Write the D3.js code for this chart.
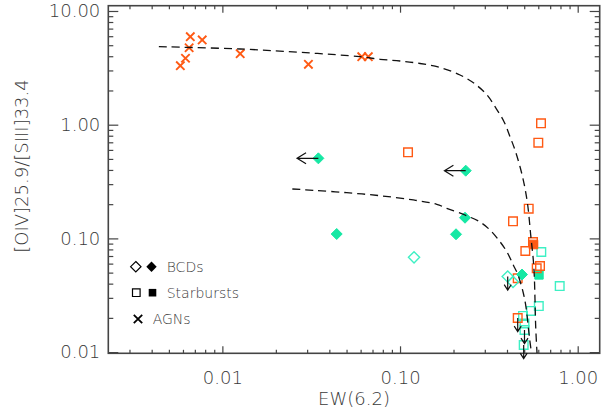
<!DOCTYPE html>
<html><head><meta charset="utf-8">
<script src="https://cdn.jsdelivr.net/npm/d3@7"></script>
<style>
html,body{margin:0;padding:0;background:#fff;}
svg{display:block;}
</style></head>
<body>
<svg id="chart" width="602" height="418"></svg>
<script>
// ---------- data ----------
const xDomain = [0.00228, 1.33];
const yDomain = [0.00976, 11.13];
const xMajorTicks = [0.01, 0.1, 1];
const yMajorTicks = [0.01, 0.1, 1, 10];
const xTitle = "EW(6.2)";
const yTitle = "[OIV]25.9/[SIII]33.4";

// AGNs (crosses)
const agnX = [0.0066, 0.0077, 0.0065, 0.0062, 0.0058, 0.0126, 0.0305, 0.0609, 0.0663];
const agnY = [5.94, 5.56, 4.75, 3.84, 3.30, 4.21, 3.40, 3.96, 3.96];

// BCDs filled diamonds
const bcdFillX = [0.0347, 0.2343, 0.2321, 0.2066, 0.0440, 0.4858];
const bcdFillY = [0.506, 0.394, 0.152, 0.1087, 0.1093, 0.0481];
const bcdFillLim = ["left", "left", "", "", "", ""];

// BCDs open diamonds
const bcdOpenX = [0.1199, 0.4037, 0.4324];
const bcdOpenY = [0.0682, 0.0462, 0.0414];
const bcdOpenLim = ["", "down", ""];

// Starbursts open squares (orange)
const sbOrangeX = [0.6216, 0.6002, 0.1109, 0.5300, 0.4324, 0.5603, 0.5073, 0.6136, 0.5878, 0.4596, 0.4596];
const sbOrangeY = [1.029, 0.6945, 0.5718, 0.1825, 0.1414, 0.0930, 0.0775, 0.0572, 0.0546, 0.0446, 0.01995];
const sbOrangeLim = ["", "", "", "", "", "", "", "", "", "", "down"];

// Starbursts filled square (orange)
const sbOrangeFillX = [0.5639];
const sbOrangeFillY = [0.0884];

// Starbursts open squares (cyan)
const sbCyanX = [0.6240, 0.7920, 0.6041, 0.5461, 0.4921, 0.5018, 0.5018, 0.4966];
const sbCyanY = [0.0759, 0.0381, 0.0254, 0.0230, 0.0208, 0.01784, 0.01564, 0.01155];
const sbCyanLim = ["", "", "", "", "", "", "down", "down"];

// Starbursts filled square (cyan)
const sbCyanFillX = [0.6056];
const sbCyanFillY = [0.0477];

// dashed curves
const curve1X = [0.00439, 0.01258, 0.03114, 0.05955, 0.07716, 0.1000, 0.1296, 0.1680, 0.2176, 0.2643, 0.3087, 0.3424, 0.3848, 0.4159, 0.4437, 0.4735, 0.4986, 0.5231, 0.5439, 0.5625, 0.5700, 0.5751, 0.5803, 0.5902];
const curve1Y = [4.853, 4.633, 4.272, 3.964, 3.760, 3.633, 3.453, 3.185, 2.736, 2.280, 1.825, 1.440, 1.063, 0.784, 0.599, 0.427, 0.305, 0.1967, 0.1071, 0.0646, 0.0460, 0.0287, 0.01663, 0.00982];
const curve2X = [0.02476, 0.03251, 0.05012, 0.07716, 0.1188, 0.1609, 0.1832, 0.2321, 0.2819, 0.3209, 0.3653, 0.4000, 0.4340, 0.4613, 0.4941, 0.5117, 0.5272, 0.5390, 0.5495];
const curve2Y = [0.2720, 0.2649, 0.2523, 0.2374, 0.2177, 0.1995, 0.1839, 0.1606, 0.1394, 0.1186, 0.0935, 0.0759, 0.0583, 0.0477, 0.0331, 0.0249, 0.01663, 0.01227, 0.00982];

// legend
const legendLabels = ["BCDs", "Starbursts", "AGNs"];

// ---------- styles ----------
const ORANGE = "#ff5a14";
const MINT = "#16e8a4";
const CYAN = "#3ef0c4";
const FONT = "'DejaVu Sans', sans-serif";
const FW = 200;
const TXT = "#3a3a3a";
const AX = "#444";

const M = {left: 108.3, right: 599.7, top: 5.7, bottom: 353.3};
const svg = d3.select("#chart");

const x = d3.scaleLog().domain(xDomain).range([M.left, M.right]);
const y = d3.scaleLog().domain(yDomain).range([M.bottom, M.top]);

function minorTicks(dom) {
  const out = [];
  const lo = Math.floor(Math.log10(dom[0])), hi = Math.ceil(Math.log10(dom[1]));
  for (let e = lo; e <= hi; e++) for (let k = 2; k <= 9; k++) {
    const v = k * Math.pow(10, e);
    if (v >= dom[0] && v <= dom[1]) out.push(v);
  }
  return out;
}
const fmt = d3.format(".2f");

function styleAxis(g) {
  g.select(".domain").remove();
  g.selectAll("line").attr("stroke", AX).attr("stroke-width", 1.2);
  g.selectAll("text").attr("font-family", FONT).attr("font-weight", FW).attr("font-size", 18).attr("fill", TXT);
}

// x axes (tick length = 7 major / 3.5 minor)
svg.append("g").attr("transform", `translate(0,${M.bottom})`)
  .call(d3.axisBottom(x).tickValues(xMajorTicks).tickFormat(fmt).tickSize(-7).tickPadding(18))
  .call(styleAxis);
svg.append("g").attr("transform", `translate(0,${M.bottom})`)
  .call(d3.axisBottom(x).tickValues(minorTicks(xDomain)).tickFormat("").tickSize(-3.5))
  .call(styleAxis);
svg.append("g").attr("transform", `translate(0,${M.top})`)
  .call(d3.axisTop(x).tickValues(xMajorTicks).tickFormat("").tickSize(-7))
  .call(styleAxis);
svg.append("g").attr("transform", `translate(0,${M.top})`)
  .call(d3.axisTop(x).tickValues(minorTicks(xDomain)).tickFormat("").tickSize(-3.5))
  .call(styleAxis);

// y axes (tick length = 10 major / 5 minor)
svg.append("g").attr("transform", `translate(${M.left},0)`)
  .call(d3.axisLeft(y).tickValues(yMajorTicks).tickFormat(fmt).tickSize(-10).tickPadding(8))
  .call(styleAxis);
svg.append("g").attr("transform", `translate(${M.left},0)`)
  .call(d3.axisLeft(y).tickValues(minorTicks(yDomain)).tickFormat("").tickSize(-5))
  .call(styleAxis);
svg.append("g").attr("transform", `translate(${M.right},0)`)
  .call(d3.axisRight(y).tickValues(yMajorTicks).tickFormat("").tickSize(-10))
  .call(styleAxis);
svg.append("g").attr("transform", `translate(${M.right},0)`)
  .call(d3.axisRight(y).tickValues(minorTicks(yDomain)).tickFormat("").tickSize(-5))
  .call(styleAxis);

// frame
svg.append("rect").attr("x", M.left).attr("y", M.top)
  .attr("width", M.right - M.left).attr("height", M.bottom - M.top)
  .attr("fill", "none").attr("stroke", AX).attr("stroke-width", 1.6);

// titles
svg.append("text").attr("x", (M.left + M.right) / 2).attr("y", 405)
  .attr("text-anchor", "middle").attr("font-family", FONT).attr("font-weight", FW).attr("font-size", 18).attr("fill", TXT)
  .text(xTitle);
svg.append("text").attr("transform", "translate(28,166) rotate(-90)")
  .attr("text-anchor", "middle").attr("font-family", FONT).attr("font-weight", FW).attr("font-size", 18).attr("fill", TXT)
  .text(yTitle);

// ---------- marker helpers ----------
function diamondPath(cx, cy, r) { return `M${cx},${cy - r}L${cx + r},${cy}L${cx},${cy + r}L${cx - r},${cy}Z`; }
function squarePath(cx, cy, r) { return `M${cx - r},${cy - r}H${cx + r}V${cy + r}H${cx - r}Z`; }
function crossPath(cx, cy, r) { return `M${cx - r},${cy - r}L${cx + r},${cy + r}M${cx - r},${cy + r}L${cx + r},${cy - r}`; }

const gPts = svg.append("g");
const gArr = svg.append("g");
const ARROW_DEX = 0.12;

function arrow(px, py, lim) {
  if (!lim) return;
  let x2, y2;
  const x1 = x(px), y1 = y(py);
  if (lim === "left") { x2 = x(px * Math.pow(10, -ARROW_DEX)); y2 = y1; }
  else { x2 = x1; y2 = y(py * Math.pow(10, -ARROW_DEX)); }
  const len = Math.hypot(x2 - x1, y2 - y1);
  const ux = (x2 - x1) / len, uy = (y2 - y1) / len;
  const h = lim === "left" ? 9 : 5.5, w = lim === "left" ? 5.5 : 3.5;
  const p = `M${x1},${y1}L${x2},${y2}M${x2 - ux * h - uy * w},${y2 - uy * h + ux * w}L${x2},${y2}L${x2 - ux * h + uy * w},${y2 - uy * h - ux * w}`;
  gArr.append("path").attr("d", p).attr("fill", "none").attr("stroke", "#111").attr("stroke-width", 1.2);
}

function plotGroup(xs, ys, lims, shape, r, color, filled, sw) {
  xs.forEach((v, i) => {
    const cx = x(v), cy = y(ys[i]);
    const d = shape === "diamond" ? diamondPath(cx, cy, r) : shape === "square" ? squarePath(cx, cy, r) : crossPath(cx, cy, r);
    gPts.append("path").attr("d", d)
      .attr("fill", filled ? color : "none")
      .attr("stroke", color).attr("stroke-width", sw);
    if (lims) arrow(v, ys[i], lims[i]);
  });
}

plotGroup(sbCyanX, sbCyanY, sbCyanLim, "square", 4.3, CYAN, false, 1.4);
plotGroup(sbCyanFillX, sbCyanFillY, null, "square", 4.2, MINT, true, 1);
plotGroup(sbOrangeX, sbOrangeY, sbOrangeLim, "square", 4.3, ORANGE, false, 1.4);
plotGroup(sbOrangeFillX, sbOrangeFillY, null, "square", 4.3, ORANGE, true, 1);
plotGroup(bcdOpenX, bcdOpenY, bcdOpenLim, "diamond", 5.6, CYAN, false, 1.4);
plotGroup(bcdFillX, bcdFillY, bcdFillLim, "diamond", 5.5, MINT, true, 1);
plotGroup(agnX, agnY, null, "cross", 4.2, ORANGE, false, 1.9);

// dashed curves
const line = d3.line().x(d => x(d[0])).y(d => y(d[1])).curve(d3.curveCatmullRom);
[[curve1X, curve1Y], [curve2X, curve2Y]].forEach(([cx, cy]) => {
  svg.append("path").attr("d", line(cx.map((v, i) => [v, cy[i]])))
    .attr("fill", "none").attr("stroke", "#111").attr("stroke-width", 1.3)
    .attr("stroke-dasharray", "8,5");
});

// legend
const lg = svg.append("g");
const rows = [266.7, 292.7, 319];
lg.append("path").attr("d", diamondPath(135.8, rows[0], 5.2)).attr("fill", "none").attr("stroke", "#000").attr("stroke-width", 1.2);
lg.append("path").attr("d", diamondPath(151.5, rows[0], 5.2)).attr("fill", "#000");
lg.append("path").attr("d", squarePath(136.3, rows[1], 3.8)).attr("fill", "none").attr("stroke", "#000").attr("stroke-width", 1.2);
lg.append("path").attr("d", squarePath(152.5, rows[1], 3.8)).attr("fill", "#000");
lg.append("path").attr("d", crossPath(138, rows[2], 4.2)).attr("fill", "none").attr("stroke", "#000").attr("stroke-width", 1.8);
const lx = [166.7, 166.7, 152.7];
legendLabels.forEach((t, i) => {
  lg.append("text").attr("x", lx[i]).attr("y", rows[i]).attr("dy", "0.36em")
    .attr("font-family", FONT).attr("font-weight", FW).attr("font-size", 14).attr("fill", TXT).text(t);
});
</script>
</body></html>
